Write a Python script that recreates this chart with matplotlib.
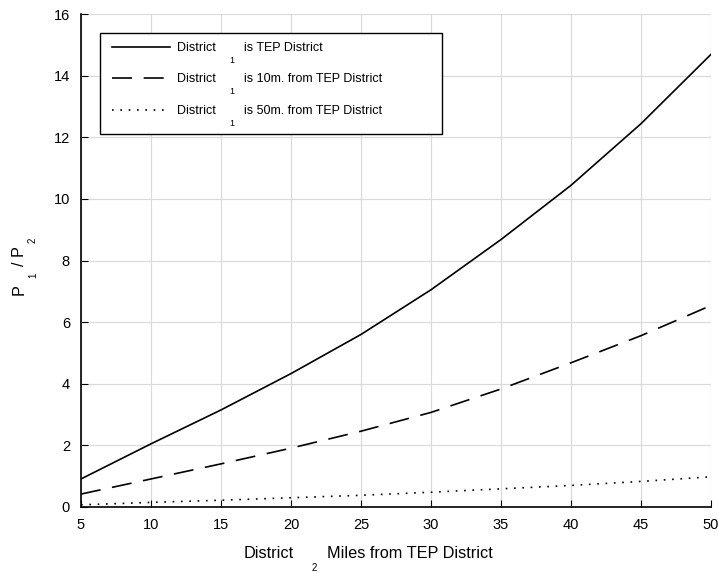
import numpy as np
import matplotlib
matplotlib.use("Agg")
import matplotlib.pyplot as plt
from matplotlib.patches import Rectangle

plt.rcParams['font.family'] = ['Liberation Sans', 'DejaVu Sans']

# ---- data ----
miles = [5, 10, 15, 20, 25, 30, 35, 40, 45, 50]
tep_district = [0.91, 2.05, 3.15, 4.33, 5.6, 7.05, 8.68, 10.44, 12.44, 14.69]
from_10m = [0.42, 0.91, 1.40, 1.91, 2.46, 3.07, 3.83, 4.68, 5.56, 6.54]
from_50m = [0.07, 0.15, 0.22, 0.30, 0.38, 0.48, 0.59, 0.70, 0.83, 0.98]

label_head = "District"
label_sub = "1"
label_tails = ["is TEP District", "is 10m. from TEP District", "is 50m. from TEP District"]
x_ticks = [5, 10, 15, 20, 25, 30, 35, 40, 45, 50]
y_ticks = [0, 2, 4, 6, 8, 10, 12, 14, 16]

W, H = 719, 573
fig = plt.figure(figsize=(W / 100, H / 100), dpi=100)
ax = fig.add_axes([81 / W, 1 - 507 / H, 630 / W, 493 / H])

gap = " " * 8
labels = [label_head + gap + t for t in label_tails]

ax.plot(miles, tep_district, color='black', lw=1.2, linestyle='-', label=labels[0])
ax.plot(miles, from_10m, color='black', lw=1.2, linestyle=(0, (12, 7)), label=labels[1])
ax.plot(miles, from_50m, color='black', lw=1.2, linestyle=(0, (1, 4)), label=labels[2])

ax.set_xlim(5, 50)
ax.set_ylim(0, 16)
ax.set_xticks(x_ticks)
ax.set_yticks(y_ticks)
ax.grid(True, color='#d9d9d9', lw=0.8)
ax.set_axisbelow(True)
for s in ['top', 'right']:
    ax.spines[s].set_visible(False)
ax.spines['left'].set_linewidth(1.2)
ax.spines['bottom'].set_linewidth(1.2)
ax.tick_params(direction='in', length=5, labelsize=10.5, pad=8)

# legend box (white background, black frame)
box_x0, box_x1 = 19 / 630, 361 / 630
box_y1, box_y0 = 474 / 493, 373 / 493
ax.add_patch(Rectangle((box_x0, box_y0), box_x1 - box_x0, box_y1 - box_y0,
                       transform=ax.transAxes, facecolor='white', edgecolor='black',
                       lw=1.0, zorder=4))

leg_x0 = box_x0 + 2.7 / 630
leg = ax.legend(loc='upper left', bbox_to_anchor=(leg_x0, 0.3, box_x1 - leg_x0, box_y1 - 0.3),
                mode='expand', fontsize=9, frameon=False,
                handlelength=4.64, handletextpad=0.58, labelspacing=1.56,
                borderpad=0.72, borderaxespad=0)
leg.set_zorder(5)


def piece(xp, yp, s, fs, rot=0):
    fig.text(xp / W, 1 - yp / H, s, fontsize=fs, rotation=rot,
             rotation_mode='anchor', ha='left', va='baseline')


# x label: District_2 Miles from TEP District
piece(244, 558, "District", 11.7)
piece(312, 571, "2", 7)
piece(327, 558, "Miles from TEP District", 11.7)

# y label: P_1 / P_2 (rotated)
piece(23.5, 295, "P", 11.7, 90)
piece(36, 278, "1", 7, 90)
piece(23.5, 266, "/ P", 11.7, 90)
piece(36, 243, "2", 7, 90)

# subscripts inside the legend labels
fig.canvas.draw()
r = fig.canvas.get_renderer()
for t in leg.get_texts():
    fp = t.get_fontproperties()
    bb = t.get_window_extent(r)
    _, _, lp_d = r.get_text_width_height_descent("lp", fp, ismath=False)
    w, _, _ = r.get_text_width_height_descent(label_head, fp, ismath=False)
    base = bb.y0 + lp_d
    xf, yf = fig.transFigure.inverted().transform((bb.x0 + w + 14, base - 11.7))
    fig.text(xf, yf, label_sub, fontsize=6.5, ha='left', va='baseline')

fig.savefig("out.png", dpi=100)
